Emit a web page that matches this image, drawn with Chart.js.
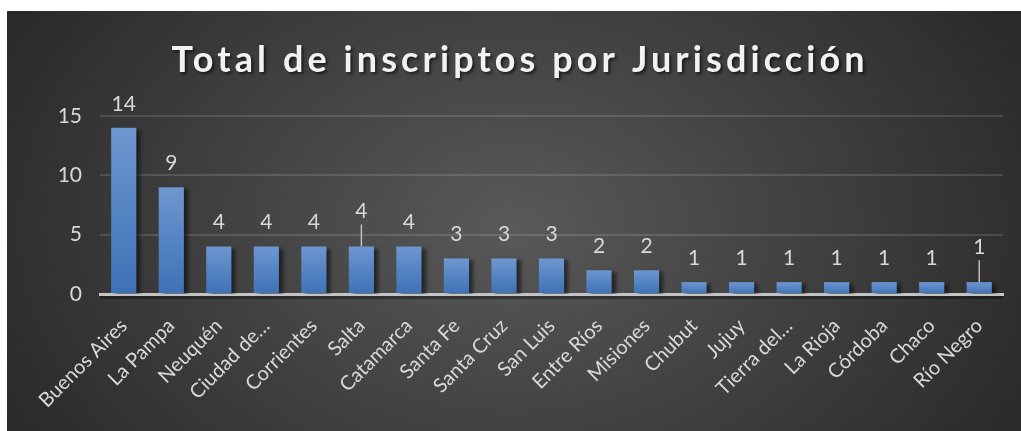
<!DOCTYPE html>
<html><head><meta charset="utf-8">
<script src="https://cdn.jsdelivr.net/npm/chart.js@4/dist/chart.umd.min.js"></script>
<style>
html,body{margin:0;padding:0;background:#fff;width:1021px;height:431px;overflow:hidden}
#wrap{position:absolute;left:7px;top:11px;width:1014px;height:420px}
</style></head><body>
<div id="wrap"><canvas id="c" width="1014" height="420"></canvas></div>
<script>
const titleText = 'Total de inscriptos por Jurisdicción';
const categories = ['Buenos Aires','La Pampa','Neuquén','Ciudad de…','Corrientes','Salta','Catamarca','Santa Fe','Santa Cruz','San Luis','Entre Ríos','Misiones','Chubut','Jujuy','Tierra del…','La Rioja','Córdoba','Chaco','Río Negro'];
const inscriptos = [14,9,4,4,4,4,4,3,3,3,2,2,1,1,1,1,1,1,1];
const yTicks = [0,5,10,15];

const FONT = 'Lato, "Open Sans", sans-serif';
const TXT = '#d9d9d9';
const leaderIdx = [5, 18];

const bgPlugin = {
  id: 'bg',
  beforeDraw(chart) {
    const c = chart.ctx;
    c.save();
    c.translate(505, 215);
    c.scale(1, 0.72);
    const g = c.createRadialGradient(0, 0, 0, 0, 0, 570);
    g.addColorStop(0, '#595959');
    g.addColorStop(1, '#2a2a2a');
    c.fillStyle = g;
    c.fillRect(-600, -400, 1300, 900);
    c.restore();
  }
};

const shadowLabelPlugin = {
  id: 'shadowLabels',
  beforeDatasetsDraw(chart) {
    const c = chart.ctx;
    c.save();
    c.shadowColor = 'rgba(0,0,0,0.55)';
    c.shadowOffsetX = 4;
    c.shadowOffsetY = 2;
    c.shadowBlur = 4;
  },
  afterDatasetsDraw(chart) {
    const c = chart.ctx;
    c.restore();
    const meta = chart.getDatasetMeta(0);
    c.save();
    c.font = '21px ' + FONT;
    c.fillStyle = TXT;
    c.textAlign = 'center';
    c.textBaseline = 'middle';
    meta.data.forEach((bar, i) => {
      const isLeader = leaderIdx.includes(i);
      const off = isLeader ? 35 : 24;
      c.fillText(String(inscriptos[i]), bar.x, bar.y - off);
      if (isLeader) {
        c.strokeStyle = '#bfbfbf';
        c.lineWidth = 1.5;
        c.beginPath();
        c.moveTo(bar.x, bar.y - off + 13);
        c.lineTo(bar.x, bar.y);
        c.stroke();
      }
    });
    c.restore();
  },
  afterDraw(chart) {
    const c = chart.ctx;
    const ca = chart.chartArea;
    c.save();
    c.fillStyle = 'rgba(0,0,0,0.35)';
    c.fillRect(ca.left, ca.bottom + 2, ca.right - ca.left, 3);
    c.restore();
    c.save();
    c.font = 'bold 36px ' + FONT;
    c.letterSpacing = '0px';
    const w0 = c.measureText(titleText).width;
    const target = 693;
    const sp = (target - w0) / (titleText.length - 1);
    c.letterSpacing = sp + 'px';
    c.fillStyle = '#f2f2f2';
    c.textAlign = 'left';
    c.textBaseline = 'alphabetic';
    c.shadowColor = 'rgba(0,0,0,0.6)';
    c.shadowOffsetX = 2;
    c.shadowOffsetY = 2;
    c.shadowBlur = 3;
    c.fillText(titleText, 511 - target / 2, 61);
    c.restore();
  }
};

new Chart(document.getElementById('c'), {
  type: 'bar',
  data: {
    labels: categories,
    datasets: [{
      data: inscriptos,
      barPercentage: 0.53,
      categoryPercentage: 1,
      backgroundColor: ctx => {
        const chart = ctx.chart, y = chart.scales.y;
        if (!y || ctx.raw === undefined) return '#4f81bd';
        const top = y.getPixelForValue(ctx.raw), base = y.getPixelForValue(0);
        if (!isFinite(top) || !isFinite(base)) return '#4f81bd';
        const g = chart.ctx.createLinearGradient(0, top, 0, base);
        g.addColorStop(0, '#6e97d0');
        g.addColorStop(1, '#3d71b6');
        return g;
      },
      borderWidth: 0
    }]
  },
  options: {
    responsive: false,
    animation: false,
    layout: { padding: { top: 105, right: 18, left: 0, bottom: 0 } },
    plugins: { legend: { display: false }, title: { display: false }, tooltip: { enabled: false } },
    scales: {
      x: {
        grid: { display: false },
        border: { color: '#c4c4c4', width: 3 },
        ticks: {
          color: TXT, font: { family: FONT, size: 20 },
          maxRotation: 45, minRotation: 45, autoSkip: false, padding: 12
        },
        afterFit: s => { s.height = 137; }
      },
      y: {
        min: 0, max: 15,
        border: { display: false },
        grid: { color: ctx => ctx.tick && ctx.tick.value === 0 ? 'rgba(0,0,0,0)' : 'rgba(255,255,255,0.13)', lineWidth: 2, drawTicks: false },
        afterBuildTicks: s => { s.ticks = yTicks.map(v => ({ value: v })); },
        ticks: { color: TXT, font: { family: FONT, size: 21 }, padding: 18 },
        afterFit: s => { s.width = 93; }
      }
    }
  },
  plugins: [bgPlugin, shadowLabelPlugin]
});
</script>
</body></html>
